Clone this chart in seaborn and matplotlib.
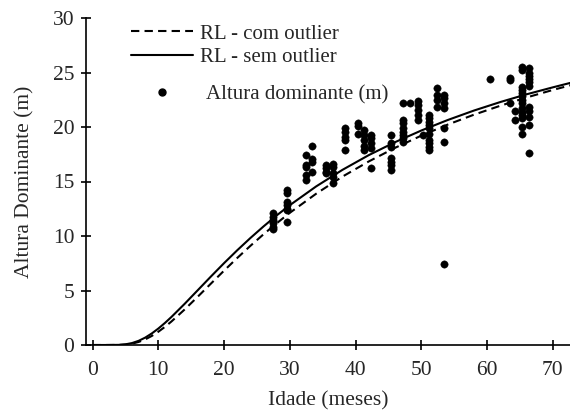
import matplotlib
matplotlib.use("Agg")
import matplotlib.pyplot as plt
import seaborn as sns
import pandas as pd
from matplotlib.lines import Line2D

# ---- data ----
idade_obs = ([27.5]*6 + [29.5]*7 + [32.4]*5 + [33.4]*4 + [35.5]*4 + [36.5]*5 +
             [38.4]*5 + [40.4]*3 + [41.3]*5 + [42.3]*5 + [45.4]*7 + [47.2]*8 +
             [48.3] + [49.5]*5 + [50.3] + [51.2]*10 + [52.4]*4 + [53.4]*7 +
             [60.4] + [63.4]*3 + [64.3]*2 + [65.3]*14 + [66.4]*11)
altura_obs = [12.1, 11.7, 11.5, 11.2, 10.8, 10.6,
              14.2, 13.9, 13.1, 12.8, 12.5, 12.4, 11.3,
              17.4, 16.5, 16.3, 15.6, 15.1,
              18.3, 17.1, 16.8, 15.9,
              16.5, 16.2, 15.9, 15.8,
              16.6, 16.3, 15.8, 15.4, 14.9,
              19.9, 19.5, 19.1, 18.8, 17.9,
              20.4, 20.1, 19.4,
              19.7, 19.3, 18.8, 18.3, 17.9,
              19.3, 19.0, 18.5, 18.1, 16.2,
              19.3, 18.5, 18.2, 17.2, 16.8, 16.5, 16.1,
              22.2, 20.6, 20.4, 19.9, 19.5, 19.3, 19.0, 18.6,
              22.2,
              22.4, 22.0, 21.6, 21.1, 20.6,
              19.3,
              21.1, 20.8, 20.5, 20.2, 19.9, 19.4, 18.8, 18.5, 18.2, 17.9,
              23.6, 22.9, 22.5, 21.8,
              22.9, 22.7, 22.2, 21.7, 19.9, 18.6, 7.4,
              24.4,
              24.5, 24.3, 22.2,
              21.5, 20.6,
              25.5, 25.2, 23.7, 23.4, 23.1, 22.8, 22.5, 22.2, 21.7, 21.4, 21.1, 20.8, 20.0, 19.4,
              25.4, 25.0, 24.7, 24.4, 24.1, 23.8, 21.8, 21.5, 20.9, 20.2, 17.6]

idade_curva = [0, 2, 4, 5, 6, 7, 8, 9, 10, 11, 12, 14, 16, 18, 20, 22, 24, 26, 28, 30,
               34, 38, 42, 46, 50, 54, 58, 62, 66, 70, 73]
rl_sem_outlier = [0.0, 0.0, 0.012, 0.061, 0.178, 0.381, 0.676, 1.057, 1.509, 2.021, 2.577,
                  3.777, 5.030, 6.286, 7.514, 8.693, 9.816, 10.88, 11.89, 12.83,
                  14.55, 16.07, 17.42, 18.61, 19.68, 20.64, 21.51, 22.29, 23.00, 23.64, 24.10]
rl_com_outlier = [0.0, 0.0, 0.007, 0.039, 0.122, 0.277, 0.513, 0.829, 1.216, 1.664, 2.160,
                  3.258, 4.434, 5.634, 6.825, 7.985, 9.097, 10.16, 11.17, 12.13,
                  13.88, 15.45, 16.84, 18.09, 19.21, 20.22, 21.13, 21.95, 22.71, 23.40, 23.88]

x_ticks = [0, 10, 20, 30, 40, 50, 60, 70]
y_ticks = [0, 5, 10, 15, 20, 25, 30]

lbl_com = "RL - com outlier"
lbl_sem = "RL - sem outlier"
lbl_obs = "Altura dominante (m)"

# ---- plotting ----
sns.set_style("ticks")
plt.rcParams["font.family"] = ["Liberation Serif", "DejaVu Serif"]

fig = plt.figure(figsize=(5.7, 4.13), dpi=100)
ax = fig.add_axes([86/570, 1-345/413, 484/570, 327/413])

obs = pd.DataFrame({"idade": idade_obs, "altura": altura_obs})
curvas = pd.DataFrame({"idade": idade_curva, "com": rl_com_outlier, "sem": rl_sem_outlier})

sns.lineplot(data=curvas, x="idade", y="com", ax=ax, color="black", lw=1.5,
             linestyle=(0, (4, 2.5)))
sns.lineplot(data=curvas, x="idade", y="sem", ax=ax, color="black", lw=1.5)
sns.scatterplot(data=obs, x="idade", y="altura", ax=ax, color="black", s=28,
                edgecolor="black", linewidth=0.3, zorder=3)

ax.set_xlim(-1.0, 72.6)
ax.set_ylim(0, 30)
ax.set_xticks(x_ticks)
ax.set_yticks(y_ticks)
ax.tick_params(direction="inout", length=7, width=1.2, labelsize=15.5, color="black")
ax.tick_params(axis="x", pad=8)
ax.tick_params(axis="y", pad=5)
for s in ["top", "right"]:
    ax.spines[s].set_visible(False)
for s in ["left", "bottom"]:
    ax.spines[s].set_linewidth(1.2)
    ax.spines[s].set_color("black")
ax.set_xlabel("Idade (meses)", fontsize=15.5, labelpad=8)
ax.set_ylabel("Altura Dominante (m)", fontsize=15.5, labelpad=13)

h1 = [Line2D([], [], color="black", lw=1.5, linestyle=(0, (4, 2.5))),
      Line2D([], [], color="black", lw=1.5)]
leg1 = ax.legend(h1, [lbl_com, lbl_sem], loc="upper left", bbox_to_anchor=(0.071, 1.013),
                 frameon=False, fontsize=15, handlelength=3.0, handletextpad=0.33,
                 labelspacing=0.2, borderpad=0)
ax.add_artist(leg1)
h2 = [Line2D([], [], color="black", marker="o", markersize=5, linestyle="none")]
ax.legend(h2, [lbl_obs], loc="upper left", bbox_to_anchor=(0.071, 0.828),
          frameon=False, fontsize=15, handlelength=3.0, handletextpad=0.6, borderpad=0)

fig.savefig("out.png", dpi=100)
